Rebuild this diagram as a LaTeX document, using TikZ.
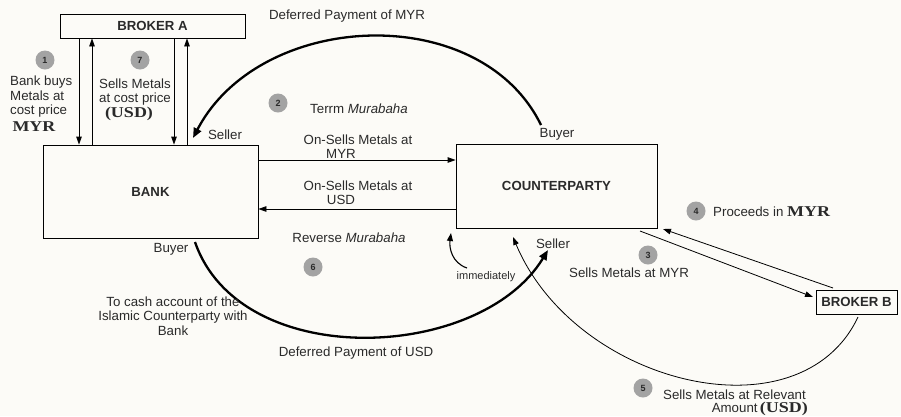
\documentclass[tikz,border=0pt]{standalone}
\usepackage{fontspec}
\setmainfont{Liberation Sans}
\newfontfamily\numserif[FakeStretch=1.2]{Liberation Serif}
\usetikzlibrary{arrows.meta}
\definecolor{paper}{HTML}{FCFBF7}
\definecolor{ink}{HTML}{2A2A2A}
\definecolor{badge}{HTML}{A3A3A3}
\newcommand{\cur}[1]{{\numserif\bfseries\fontsize{15}{15}\selectfont #1}}
\tikzset{
  party/.style={draw=black, line width=0.8pt, fill=paper, font=\bfseries\fontsize{13.2}{14}\selectfont, text=ink},
  lbl/.style={font=\fontsize{13.3}{14.5}\selectfont, text=ink, inner sep=0pt, align=center},
  numdot/.style={circle, fill=badge, minimum size=19pt, inner sep=0pt, font=\bfseries\fontsize{9}{10}\selectfont, text=ink},
  thin/.style={line width=0.8pt, -{Triangle[length=8pt,width=5.5pt]}},
  heavy/.style={line width=2.3pt, -{Triangle[length=10pt,width=8pt]}},
}
\begin{document}
\begin{tikzpicture}[x=1pt,y=-1pt]
\fill[paper] (0,0) rectangle (901,416);
\useasboundingbox (0,0) rectangle (901,416);

% parties
\node[party, minimum width=185pt, minimum height=24pt] (brokerA) at (152.5,26) {BROKER A};
\node[party, minimum width=215pt, minimum height=93pt] (bank) at (150.5,191.5) {BANK};
\node[party, minimum width=201pt, minimum height=84pt] (cpty) at (556.5,186) {COUNTERPARTY};
\node[party, minimum width=81pt, minimum height=24pt] (brokerB) at (856.5,302) {BROKER B};

% columns for the broker A legs
\coordinate (c1) at (79,0);
\coordinate (c2) at (92,0);
\coordinate (c3) at (174,0);
\coordinate (c4) at (187,0);
\draw[thin] (brokerA.south -| c1) -- (bank.north -| c1);
\draw[thin] (bank.north -| c2) -- (brokerA.south -| c2);
\draw[thin] (brokerA.south -| c3) -- (bank.north -| c3);
\draw[thin] (bank.north -| c4) -- (brokerA.south -| c4);

% on-sells between bank and counterparty
\coordinate (r1) at (0,160);
\coordinate (r2) at (0,209);
\draw[thin] (bank.east |- r1) -- (cpty.west |- r1);
\draw[thin] (cpty.west |- r2) -- (bank.east |- r2);

% term murabaha: deferred payment of MYR
\coordinate (buyTop) at (541,125);
\coordinate (sellTop) at (193,138);
\draw[heavy] (buyTop) .. controls (480,0) and (260,10) .. (sellTop);

% reverse murabaha: deferred payment of USD
\coordinate (buyBot) at (195,242);
\coordinate (sellBot) at (548,250);
\draw[heavy] (buyBot) .. controls (240,372) and (480,362) .. (sellBot);

% immediately
\coordinate (imm) at (467,268);
\coordinate (immTip) at (451,233);
\draw[line width=1.1pt, -{Triangle[length=8pt,width=6pt]}] (imm) .. controls (452,263) and (449,248) .. (immTip);

% broker B legs
\coordinate (s3) at (640,231);
\coordinate (t3) at (813,297);
\draw[thin] (s3) -- (t3);
\coordinate (s4) at (833,288);
\coordinate (t4) at (663,229);
\draw[thin] (s4) -- (t4);
\coordinate (s5) at (858,317);
\coordinate (t5) at (513,237);
\draw[thin] (s5) .. controls (800,440) and (575,385) .. (t5);

% step badges
\node[numdot] (n1) at (45,60) {1};
\node[numdot] (n7) at (140,60) {7};
\node[numdot] (n2) at (278,103) {2};
\node[numdot] (n6) at (313,267) {6};
\node[numdot] (n3) at (648,255) {3};
\node[numdot] (n4) at (696,211) {4};
\node[numdot] (n5) at (643,388) {5};

% labels
\node[lbl, align=left, anchor=north west] (l1) at (10,76) {Bank buys\\Metals at\\cost price};
\node[lbl] (l1c) at (34,127) {\cur{MYR}};
\node[lbl] (l7) at (135,92) {Sells Metals\\at cost price};
\node[lbl] (l7c) at (129,114) {\cur{(USD)}};
\node[lbl] (dpm) at (347,16) {Deferred Payment of MYR};
\node[lbl] (tm) at (359,109) {Terrm \textit{Murabaha}};
\node[lbl] (sel1) at (225,135) {Seller};
\node[lbl] (buy1) at (557,134) {Buyer};
\node[lbl] (os1) at (358,140) {On-Sells Metals at};
\node[lbl] (os1c) at (341,154) {MYR};
\node[lbl] (os2) at (358,186) {On-Sells Metals at};
\node[lbl] (os2c) at (341,200) {USD};
\node[lbl] (rm) at (349,238) {Reverse \textit{Murabaha}};
\node[lbl] (buy2) at (171,249) {Buyer};
\node[lbl] (cash) at (173,316) {To cash account of the\\Islamic Counterparty with\\Bank};
\node[lbl] (dpu) at (356,353) {Deferred Payment of USD};
\node[lbl, font=\fontsize{11}{12}\selectfont] (immt) at (486,277) {immediately};
\node[lbl] (sel2) at (553,244) {Seller};
\node[lbl] (l3) at (629,273) {Sells Metals at MYR};
\node[lbl, anchor=west] (l4) at (713,212) {Proceeds in \cur{MYR}};
\node[lbl, anchor=east] (l5a) at (806,395) {Sells Metals at Relevant};
\node[lbl, anchor=east] (l5b) at (808,409) {Amount\,\cur{(USD)}};
\end{tikzpicture}
\end{document}
